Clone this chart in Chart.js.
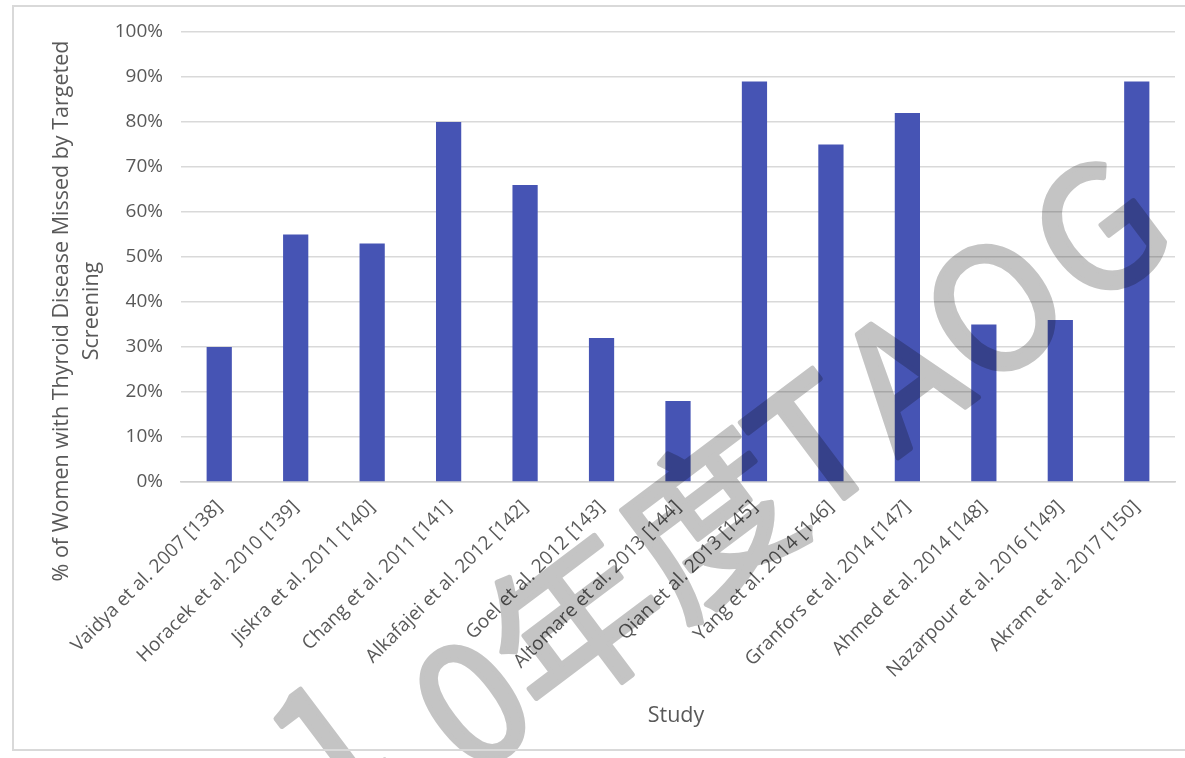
<!DOCTYPE html>
<html>
<head>
<meta charset="utf-8">
<script src="https://cdn.jsdelivr.net/npm/chart.js@4"></script>
<style>
  body { margin: 0; background: #fff; }
  #wrap { position: relative; width: 1185px; height: 758px; }
  #frame { position: absolute; left: 12px; top: 5px; width: 1185px; height: 746px; border: 2px solid #d9d9d9; box-sizing: border-box; }
</style>
</head>
<body>
<div id="wrap">
  <div id="frame"></div>
  <canvas id="chart"></canvas>
</div>
<script>
// data
var studies = [
  "Vaidya et al. 2007 [138]", "Horacek et al. 2010 [139]", "Jiskra et al. 2011 [140]",
  "Chang et al. 2011 [141]", "Alkafajei et al. 2012 [142]", "Goel et al. 2012 [143]",
  "Altomare et al. 2013 [144]", "Qian et al. 2013 [145]", "Yang et al. 2014 [146]",
  "Granfors et al. 2014 [147]", "Ahmed et al. 2014 [148]", "Nazarpour et al. 2016 [149]",
  "Akram et al. 2017 [150]"
];
var missedPct = [30, 55, 53, 80, 66, 32, 18, 89, 75, 82, 35, 36, 89];
var yMin = 0, yMax = 100, yStep = 10;
var yTitle = ["% of Women with Thyroid Disease Missed by Targeted", "Screening"];
var xTitle = "Study";
var watermark = ["1", "0", "年", "度", "T", "A", "O", "G"];

var FONT = "'Open Sans', 'Noto Sans', sans-serif";
var GREY = "#595959";

// axis titles drawn by hand so they sit where the original puts them
var titles = {
  id: "titles",
  afterDraw: function (chart) {
    var c = chart.ctx, a = chart.chartArea;
    c.save();
    c.fillStyle = GREY;
    c.textAlign = "center";
    c.textBaseline = "middle";
    c.font = "21.5px " + FONT;
    c.fillText(xTitle, (a.left + a.right) / 2 - 2, 716);
    var cy = a.top + 279;
    c.translate(62, cy);
    c.rotate(-Math.PI / 2);
    c.fillText(yTitle[0], 0, 0);
    c.fillText(yTitle[1], 0, 30);
    c.restore();
  }
};

// grey diagonal watermark, drawn on a scratch canvas then multiplied on top
var stamp = {
  id: "stamp",
  afterDraw: function (chart) {
    var c = chart.ctx;
    var offs = [-270, -130, 0, 168, 298, 408, 525, 655];
    var lift = [55, 0, 0, 0, 0, 0, 0, 0];
    var tmp = document.createElement("canvas");
    tmp.width = chart.width;
    tmp.height = chart.height;
    var t = tmp.getContext("2d");
    t.fillStyle = "#c4c4c4";
    t.strokeStyle = "#c4c4c4";
    t.lineWidth = 5;
    t.lineJoin = "round";
    t.font = "168px 'Noto Sans CJK SC'";
    t.textAlign = "center";
    t.textBaseline = "middle";
    t.translate(574, 622);
    t.rotate(-37 * Math.PI / 180);
    for (var i = 0; i < watermark.length; i++) {
      t.fillText(watermark[i], offs[i], -lift[i]);
      t.strokeText(watermark[i], offs[i], -lift[i]);
    }
    c.save();
    c.globalCompositeOperation = "multiply";
    c.drawImage(tmp, 0, 0);
    c.restore();
  }
};

new Chart(document.getElementById("chart"), {
  type: "bar",
  data: {
    labels: studies,
    datasets: [{
      data: missedPct,
      backgroundColor: "#4654b4",
      categoryPercentage: 1,
      barPercentage: 0.33
    }]
  },
  options: {
    responsive: true,
    maintainAspectRatio: false,
    animation: false,
    layout: { padding: { top: 32, right: 10, left: 0, bottom: 0 } },
    plugins: { legend: { display: false }, tooltip: { enabled: false } },
    scales: {
      x: {
        grid: { display: false, drawTicks: false },
        border: { display: true, color: "#d0d0d0", width: 1.5 },
        ticks: { color: GREY, font: { size: 19, family: FONT }, minRotation: 45, maxRotation: 45, padding: 14, autoSkip: false },
        afterFit: function (s) { s.height = 276; }
      },
      y: {
        min: yMin, max: yMax,
        grid: { color: "#d9d9d9", lineWidth: 1.5, drawTicks: false },
        border: { display: false },
        ticks: {
          stepSize: yStep, color: GREY, padding: 18,
          font: { size: 19, family: FONT },
          callback: function (v) { return v + "%"; }
        },
        afterFit: function (s) { s.width = 181; }
      }
    }
  },
  plugins: [titles, stamp]
});
</script>
</body>
</html>
